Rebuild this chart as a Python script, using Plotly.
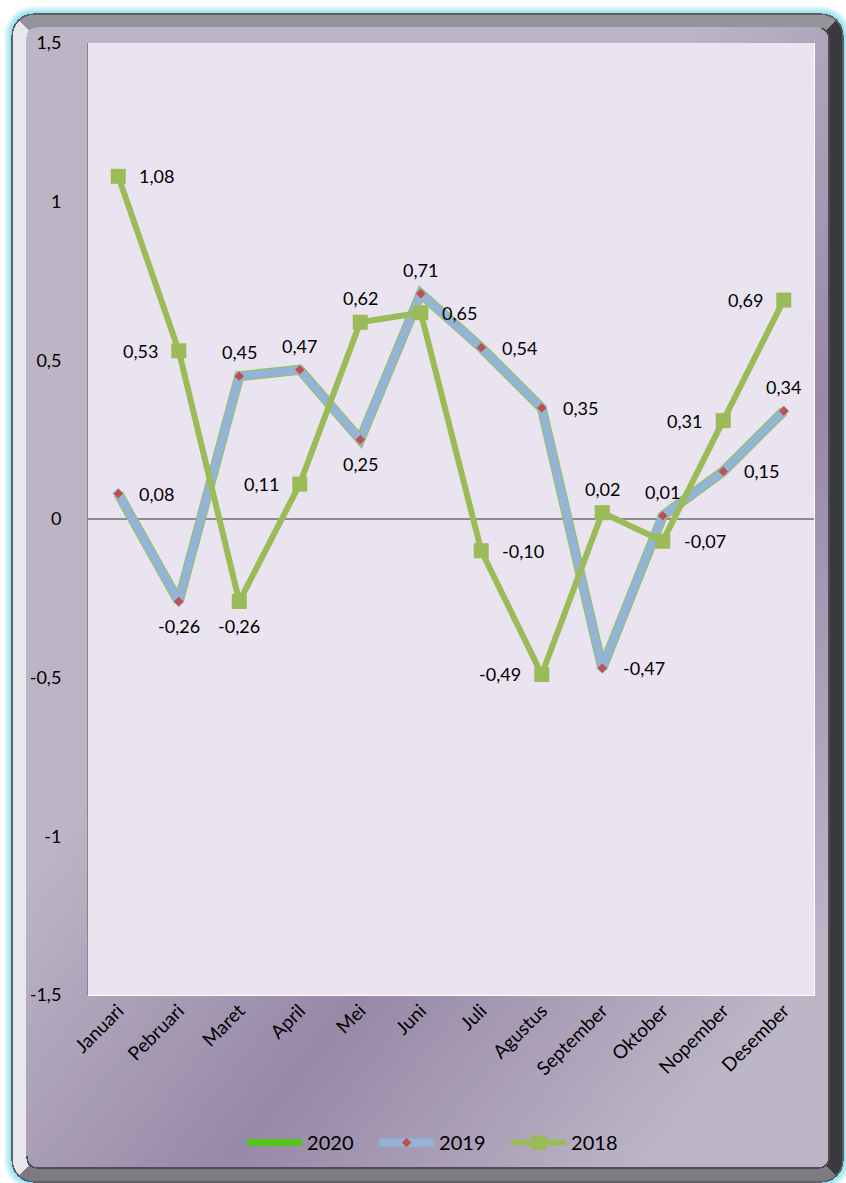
import base64
import struct
import zlib

import numpy as np
import plotly.graph_objects as go

# Data
bulan = ['Januari', 'Pebruari', 'Maret', 'April', 'Mei', 'Juni', 'Juli',
         'Agustus', 'September', 'Oktober', 'Nopember', 'Desember']
inflasi_2020 = [None] * 12
inflasi_2019 = [0.08, -0.26, 0.45, 0.47, 0.25, 0.71, 0.54, 0.35, -0.47, 0.01, 0.15, 0.34]
inflasi_2018 = [1.08, 0.53, -0.26, 0.11, 0.62, 0.65, -0.10, -0.49, 0.02, -0.07, 0.31, 0.69]
y_ticks = [1.5, 1, 0.5, 0, -0.5, -1, -1.5]
y_ticktext = ['1,5', '1', '0,5', '0', '-0,5', '-1', '-1,5']

# label placement (r = right, l = left, t = top, b = bottom)
pos_2019 = ['r', 'b', 't', 't', 'b', 't', 'r', 'r', 'r', 't', 'r', 't']
pos_2018 = ['r', 'l', 'b', 'l', 't', 'r', 'r', 'l', 't', 'r', 'l', 'l']

W, H = 846, 1183
PX0, PX1, PY0, PY1 = 88, 814, 43, 995   # plot area in pixels
PW, PH = PX1 - PX0, PY1 - PY0


def rr_dist(xx, yy, x0, y0, x1, y1, r):
    # signed distance to a rounded rectangle (negative inside)
    cx = np.clip(xx, x0 + r, x1 - r)
    cy = np.clip(yy, y0 + r, y1 - r)
    return np.hypot(xx - cx, yy - cy) - r


def make_background():
    yy, xx = np.mgrid[0:H, 0:W].astype(float)
    img = np.zeros((H, W, 4))
    img[..., :3] = 255
    img[..., 3] = 255

    # cyan glow
    d_frame = rr_dist(xx, yy, 11, 13, 843, 1182, 22)
    glow = np.clip(1 - d_frame / 8, 0, 1) * (d_frame > 0)
    glow_col = np.array([140, 225, 242])
    img[..., :3] = img[..., :3] * (1 - glow[..., None]) + glow_col * glow[..., None]

    # frame: colour by nearest edge
    inside = d_frame <= 0
    dl, dr, dt, db = xx - 11, 843 - xx, yy - 13, 1182 - yy
    edge = np.argmin(np.stack([dl, dr, dt, db]), axis=0)
    cols = np.array([[232, 232, 236], [58, 57, 62], [150, 148, 155], [125, 123, 129]], float)
    fc = cols[edge]
    rim = (d_frame > -1.5) & inside
    fc[rim] = [95, 94, 100]
    img[inside, :3] = fc[inside]

    # inner panel with diagonal gradient
    d_panel = rr_dist(xx, yy, 26, 27, 829, 1168, 10)
    pin = d_panel <= 0
    d = (xx - 260) * 0.788 + (yy - 1120) * 0.615
    t = np.clip(np.abs(d) / 330, 0, 1)[..., None]
    light = np.array([188, 181, 198])
    dark = np.array([152, 137, 168])
    pc = dark + (light - dark) * t
    img[pin, :3] = pc[pin]
    shade = pin & (d_panel > -1.6) & ((yy > 1155) | (xx > 820))
    img[shade, :3] = [80, 76, 86]

    # plot area transparent (plot_bgcolor shows)
    pa = (xx >= PX0) & (xx <= PX1) & (yy >= PY0) & (yy <= PY1)
    img[pa, 3] = 0

    arr = img.astype(np.uint8)
    raw = b''.join(b'\x00' + arr[i].tobytes() for i in range(H))

    def chunk(tag, data):
        c = struct.pack('>I', len(data)) + tag + data
        return c + struct.pack('>I', zlib.crc32(tag + data) & 0xffffffff)

    png = b'\x89PNG\r\n\x1a\n'
    png += chunk(b'IHDR', struct.pack('>IIBBBBB', W, H, 8, 6, 0, 0, 0))
    png += chunk(b'IDAT', zlib.compress(raw, 9))
    png += chunk(b'IEND', b'')
    return 'data:image/png;base64,' + base64.b64encode(png).decode()


fig = go.Figure()

fig.add_trace(go.Scatter(x=bulan, y=inflasi_2020, mode='lines', name='2020',
                         line=dict(color='#55C41A', width=7)))
# thin green edge under the 2019 line
fig.add_trace(go.Scatter(x=bulan, y=inflasi_2019, mode='lines', showlegend=False,
                         hoverinfo='skip', line=dict(color='#8FC45A', width=10)))
fig.add_trace(go.Scatter(x=bulan, y=inflasi_2019, mode='lines+markers', name='2019',
                         line=dict(color='#95B3D7', width=8),
                         marker=dict(symbol='diamond', size=8, color='#C0504D',
                                     line=dict(color='#95B3D7', width=1))))
fig.add_trace(go.Scatter(x=bulan, y=inflasi_2018, mode='lines+markers', name='2018',
                         line=dict(color='#9BBB59', width=6),
                         marker=dict(symbol='square', size=15, color='#9BBB59')))


def fmt(v):
    return f'{v:.2f}'.replace('.', ',')


def add_labels(values, positions):
    for xcat, v, p in zip(bulan, values, positions):
        a = dict(x=xcat, y=v, text=fmt(v), showarrow=False,
                 font=dict(size=18, color='#000000'))
        if p == 'r':
            a.update(xanchor='left', yanchor='middle', xshift=19)
        elif p == 'l':
            a.update(xanchor='right', yanchor='middle', xshift=-19)
        elif p == 't':
            a.update(xanchor='center', yanchor='bottom', yshift=11)
        else:
            a.update(xanchor='center', yanchor='top', yshift=-11)
        fig.add_annotation(**a)


add_labels(inflasi_2019, pos_2019)
add_labels(inflasi_2018, pos_2018)

fig.add_layout_image(dict(source=make_background(), xref='paper', yref='paper',
                          x=-PX0 / PW, y=PY1 / PH, sizex=W / PW, sizey=H / PH,
                          xanchor='left', yanchor='top', sizing='stretch',
                          layer='below'))

fig.update_layout(
    width=W, height=H,
    margin=dict(l=PX0, r=W - PX1, t=PY0, b=H - PY1),
    paper_bgcolor='#FFFFFF',
    plot_bgcolor='#E9E4EF',
    separators=',.',
    font=dict(family='Lato, Carlito, sans-serif', size=17, color='#000000'),
    showlegend=True,
    legend=dict(orientation='h', x=0.485, xanchor='center', y=-0.155, yanchor='middle',
                bgcolor='rgba(0,0,0,0)', font=dict(size=20), traceorder='normal',
                itemwidth=55, entrywidth=62, entrywidthmode='pixels'),
    xaxis=dict(range=[-0.5, 11.5], tickangle=-45, showgrid=False, zeroline=False,
               showline=False, tickfont=dict(size=19)),
    yaxis=dict(range=[-1.5, 1.5], tickvals=y_ticks, ticktext=y_ticktext,
               showgrid=False, zeroline=True,
               zerolinecolor='#8C8C8C', zerolinewidth=1.5, showline=True,
               linecolor='#868686', linewidth=1, tickfont=dict(size=18),
               ticklabelstandoff=22),
)

fig.write_html('out.html', config={'displayModeBar': False},
               post_script="document.body.style.margin='0';")
